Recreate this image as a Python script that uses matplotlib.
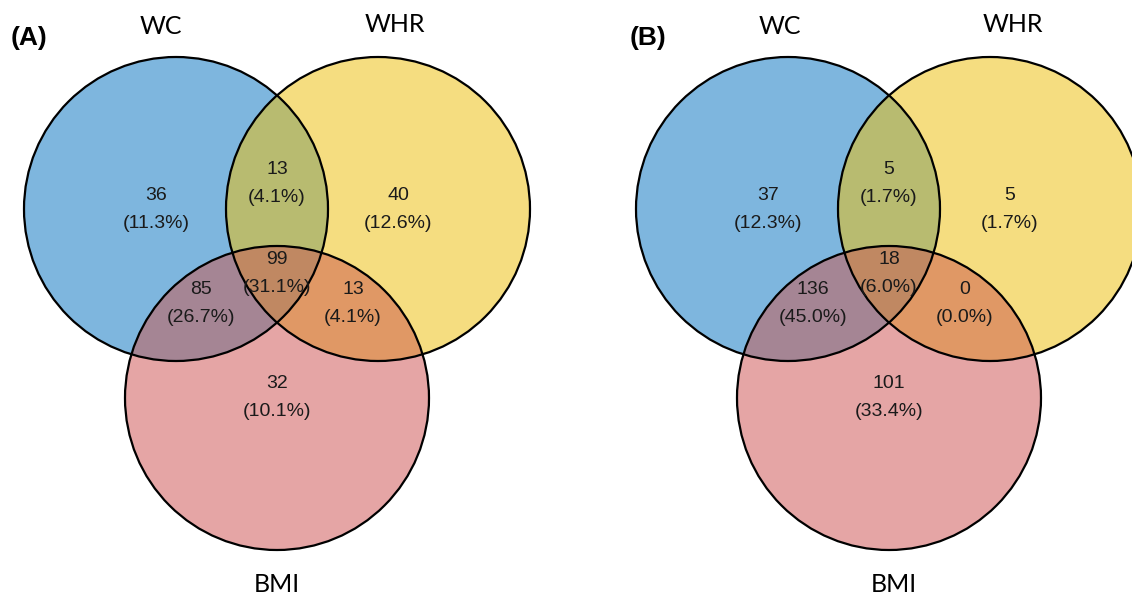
import numpy as np
import matplotlib
matplotlib.use("Agg")
import matplotlib.pyplot as plt
from matplotlib.patches import Circle, Polygon

# region order: WC only, WHR only, BMI only, WC&WHR, WC&BMI, WHR&BMI, all three
set_names = ["WC", "WHR", "BMI"]
regions = ["WC", "WHR", "BMI", "WC&WHR", "WC&BMI", "WHR&BMI", "WC&WHR&BMI"]
counts_a = [36, 40, 32, 13, 85, 13, 99]
pct_a = [11.3, 12.6, 10.1, 4.1, 26.7, 4.1, 31.1]
counts_b = [37, 5, 101, 5, 136, 0, 18]
pct_b = [12.3, 1.7, 33.4, 1.7, 45.0, 0.0, 6.0]
panel_tags = ["(A)", "(B)"]

# layout (pixels, y down), panel A frame; panel B is shifted right
R = 152
centers = {"WC": (176, 209), "WHR": (378, 209), "BMI": (277, 398)}
label_pos = {
    "WC": (156, 210), "WHR": (398, 210), "BMI": (277, 398),
    "WC&WHR": (277, 183), "WC&BMI": (201, 304), "WHR&BMI": (353, 304),
    "WC&WHR&BMI": (277, 274),
}
colors = {
    "WC": "#7eb6de", "WHR": "#f5dd80", "BMI": "#e5a5a5",
    "WC&WHR": "#b8bb70", "WC&BMI": "#a58594", "WHR&BMI": "#e09865",
    "WC&WHR&BMI": "#c08862",
}
panel_dx = [0, 612]
title_pos = [
    {"WC": (161, 27), "WHR": (395, 24), "BMI": (277, 584)},
    {"WC": (780, 27), "WHR": (1013, 24), "BMI": (894, 584)},
]
tag_pos = [(29, 38), (648, 38)]

num_font = ["Liberation Sans", "DejaVu Sans"]
title_font = ["Lato", "DejaVu Sans"]
tag_font = ["Liberation Sans", "DejaVu Sans"]


def intersection_poly(cs, n=3000):
    # all intersections of circles are convex, so sort boundary points by angle
    t = np.linspace(0, 2 * np.pi, n, endpoint=False)
    pts = []
    for i, (cx, cy) in enumerate(cs):
        p = np.column_stack([cx + R * np.cos(t), cy + R * np.sin(t)])
        keep = np.ones(n, dtype=bool)
        for j, (ox, oy) in enumerate(cs):
            if j != i:
                keep &= np.hypot(p[:, 0] - ox, p[:, 1] - oy) <= R + 1e-6
        pts.append(p[keep])
    pts = np.vstack(pts)
    c = pts.mean(axis=0)
    ang = np.arctan2(pts[:, 1] - c[1], pts[:, 0] - c[0])
    return pts[np.argsort(ang)]


fig = plt.figure(figsize=(11.32, 5.95), dpi=100)
ax = fig.add_axes([0, 0, 1, 1])
ax.set_xlim(0, 1132)
ax.set_ylim(595, 0)
ax.set_aspect("equal")
ax.axis("off")

for k, (counts, pcts) in enumerate([(counts_a, pct_a), (counts_b, pct_b)]):
    dx = panel_dx[k]
    cen = {s: (centers[s][0] + dx, centers[s][1]) for s in set_names}

    for s in set_names:
        ax.add_patch(Circle(cen[s], R, facecolor=colors[s], edgecolor="none", zorder=1))
    for reg in regions[3:]:
        poly = intersection_poly([cen[s] for s in reg.split("&")])
        ax.add_patch(Polygon(poly, closed=True, facecolor=colors[reg],
                             edgecolor="none", zorder=2 if reg.count("&") == 1 else 3))
    for s in set_names:
        ax.add_patch(Circle(cen[s], R, fill=False, edgecolor="black", lw=1.6, zorder=4))

    for reg, c, p in zip(regions, counts, pcts):
        x, y = label_pos[reg]
        ax.text(x + dx, y - 14, str(c), ha="center", va="center",
                fontsize=14, family=num_font, color="#1a1a1a", zorder=5)
        ax.text(x + dx, y + 14, f"({p:.1f}%)", ha="center", va="center",
                fontsize=14, family=num_font, color="#1a1a1a", zorder=5)

    for s in set_names:
        x, y = title_pos[k][s]
        ax.text(x, y, s, ha="center", va="center", fontsize=18,
                family=title_font, color="black")
    ax.text(tag_pos[k][0], tag_pos[k][1], panel_tags[k], ha="center", va="center",
            fontsize=19, fontweight="bold", family=tag_font, color="black")

fig.savefig("out.png", dpi=100)
